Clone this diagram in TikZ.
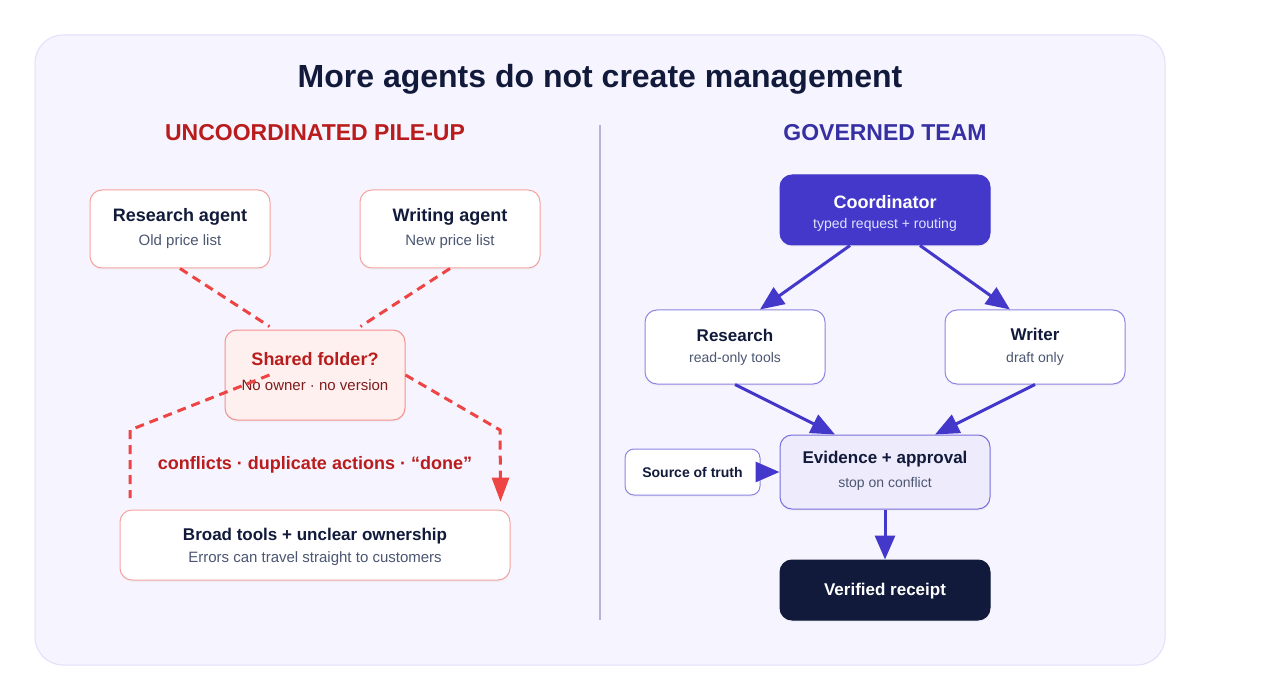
\documentclass[tikz,border=0pt]{standalone}
\usepackage{fontspec}
\setmainfont{Liberation Sans}
\usetikzlibrary{calc,arrows.meta,shadows}
\definecolor{panelbg}{HTML}{F6F4FE}
\definecolor{panelln}{HTML}{E2DEFB}
\definecolor{navy}{HTML}{111A3A}
\definecolor{redtx}{HTML}{B91C1C}
\definecolor{redsub}{HTML}{7F1D1D}
\definecolor{reddash}{HTML}{EF4444}
\definecolor{redbd}{HTML}{F5A3A0}
\definecolor{redfill}{HTML}{FEF0EF}
\definecolor{slate}{HTML}{4B5672}
\definecolor{indigo}{HTML}{4338CA}
\definecolor{indigotx}{HTML}{3730A3}
\definecolor{indbd}{HTML}{8D85E3}
\definecolor{evfill}{HTML}{EEEBFC}
\definecolor{coordsub}{HTML}{DDE3FF}
\definecolor{divider}{HTML}{B5B3D8}
\tikzset{
  box/.style={draw, rounded corners=12pt, line width=1pt, inner sep=0pt,
    drop shadow={shadow xshift=0pt, shadow yshift=-2pt, opacity=0.06}},
  redbox/.style={box, draw=redbd, fill=white},
  bluebox/.style={box, draw=indbd, fill=white},
  ttl/.style={font=\fontsize{18}{21}\selectfont\bfseries, text=navy, inner sep=0pt},
  ttls/.style={ttl, font=\fontsize{17}{20}\selectfont\bfseries},
  sub/.style={font=\fontsize{15}{18}\selectfont, text=slate, inner sep=0pt},
  subs/.style={sub, font=\fontsize{14}{17}\selectfont},
  rdash/.style={draw=reddash, line width=3pt, dash pattern=on 9pt off 6pt},
  barrow/.style={draw=indigo, line width=3pt, -{Triangle[length=24pt,width=20pt]}, shorten >=0pt},
}
\begin{document}
\begin{tikzpicture}[x=1pt,y=-1pt]
\useasboundingbox (0,0) rectangle (1265,700);
\fill[white] (0,0) rectangle (1265,700);
\draw[panelln, fill=panelbg, line width=1pt, rounded corners=28pt] (35,35) rectangle (1165,665);
\node[font=\fontsize{32}{38}\selectfont\bfseries, text=navy] (title) at (600,79) {More agents do not create management};
\node[font=\fontsize{23}{27}\selectfont\bfseries, text=redtx] (lhead) at (315,133) {UNCOORDINATED PILE-UP};
\node[font=\fontsize{23}{27}\selectfont\bfseries, text=indigotx] (rhead) at (885,133) {GOVERNED TEAM};
\coordinate (d1) at (600,125); \coordinate (d2) at (600,620);
\draw[divider, line width=1.5pt] (d1) -- (d2);

% ---------- left ----------
\node[redbox, minimum width=180pt, minimum height=78pt] (ra) at (180,229) {};
\node[ttl] (rat) at (180,217) {Research agent};
\node[sub] (ras) at (180,242) {Old price list};
\node[redbox, minimum width=180pt, minimum height=78pt] (wa) at (450,229) {};
\node[ttl] (wat) at (450,217) {Writing agent};
\node[sub] (was) at (450,242) {New price list};

\node[box, draw=redbd!80!reddash, fill=redfill, minimum width=180pt, minimum height=90pt] (sf) at (315,375) {};
\node[ttl, text=redtx] (sft) at (315,359) {Shared folder?};
\node[sub, text=redsub] (sfs) at (315,385) {No owner · no version};

\node[redbox, minimum width=390pt, minimum height=70pt] (bt) at (315,545) {};
\node[ttls] (btt) at (315,536) {Broad tools + unclear ownership};
\node[sub] (bts) at (315,559) {Errors can travel straight to customers};

\draw[rdash] (ra.south) -- ($(sf.north west)+(45,-3)$);
\draw[rdash] (wa.south) -- ($(sf.north east)+(-45,-3)$);
\coordinate (lk) at (130,430);
\coordinate (le) at (130,498);
\draw[rdash] ($(sf.west)+(45,0)$) -- (lk) -- (le);
\coordinate (rk) at (500,430);
\draw[rdash] (sf.east) -- (rk) -- ($(bt.north east)+(-10,-22)$);
\fill[reddash] ($(bt.north east)+(-10,-8)$) -- ++(-9,-24) -- ++(18,0) -- cycle;

\node[font=\fontsize{18}{22}\selectfont\bfseries, text=redtx] (conf) at (315,465) {conflicts · duplicate actions · “done”};

% ---------- right ----------
\node[box, draw=indigo, fill=indigo, minimum width=210pt, minimum height=70pt] (co) at (885,210) {};
\node[ttl, text=white] (cot) at (885,202) {Coordinator};
\node[subs, text=coordsub] (cos) at (885,225) {typed request + routing};

\node[bluebox, minimum width=180pt, minimum height=74pt] (re) at (735,347) {};
\node[ttls] (ret) at (735,335) {Research};
\node[subs] (res) at (735,359) {read-only tools};
\node[bluebox, minimum width=180pt, minimum height=74pt] (wr) at (1035,347) {};
\node[ttls] (wrt) at (1035,334) {Writer};
\node[subs] (wrs) at (1035,359) {draft only};

\node[box, draw=indbd!70!indigo, fill=evfill, minimum width=210pt, minimum height=74pt] (ev) at (885,472) {};
\node[ttls] (evt) at (885,459) {Evidence + approval};
\node[subs] (evs) at (885,484) {stop on conflict};

\node[bluebox, rounded corners=9pt, minimum width=135pt, minimum height=46pt] (st) at (692.5,472) {};
\node[ttl, font=\fontsize{14}{17}\selectfont\bfseries] (stt) at (692.5,472) {Source of truth};

\node[box, draw=navy, fill=navy, minimum width=210pt, minimum height=60pt] (vr) at (885,590) {};
\node[ttls, text=white] (vrt) at (885,591) {Verified receipt};

\draw[barrow] ($(co.south)+(-35,0)$) -- ($(re.north)+(25,0)$);
\draw[barrow] ($(co.south)+(35,0)$) -- ($(wr.north)+(-25,0)$);
\draw[barrow] (re.south) -- ($(ev.north)+(-50,0)$);
\draw[barrow] (wr.south) -- ($(ev.north)+(50,0)$);
\draw[barrow] (st.east) -- (ev.west);
\draw[barrow] (ev.south) -- (vr.north);
\end{tikzpicture}
\end{document}
